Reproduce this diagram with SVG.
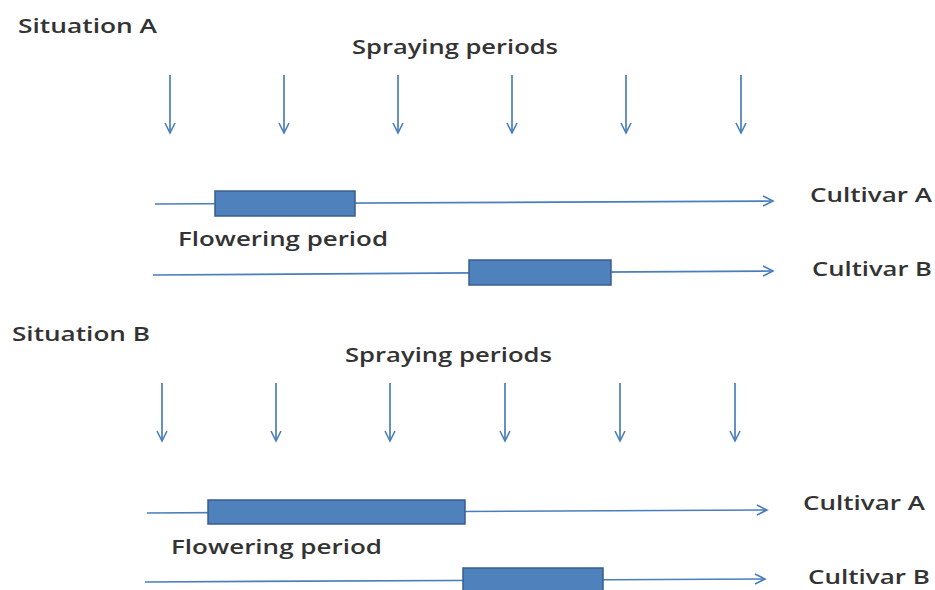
<svg xmlns="http://www.w3.org/2000/svg" width="935" height="590" viewBox="0 0 935 590">
<defs>
<marker id="ah" markerWidth="14" markerHeight="12" refX="11" refY="6" orient="auto" markerUnits="userSpaceOnUse">
<path d="M1,1 L11,6 L1,11" fill="none" stroke="#4A7EBB" stroke-width="1.6"/>
</marker>
<style>
.t{font-family:"Open Sans","Liberation Sans",sans-serif;font-size:20px;font-weight:600;fill:#333333}
.ln{stroke:#4A7EBB;stroke-width:1.6;fill:none}
.sp{stroke:#4A7EBB;stroke-width:1.7;fill:none;marker-end:url(#ah)}
.bx{fill:#4F81BD;stroke:#385D8A;stroke-width:1.5}
</style>
</defs>
<rect width="935" height="590" fill="#ffffff"/>
<g id="labels">
<text class="t" x="18" y="33" textLength="139" lengthAdjust="spacingAndGlyphs">Situation A</text>
<text class="t" x="352" y="54" textLength="206" lengthAdjust="spacingAndGlyphs">Spraying periods</text>
<text class="t" x="178" y="246" textLength="210" lengthAdjust="spacingAndGlyphs">Flowering period</text>
<text class="t" x="810" y="202" textLength="122" lengthAdjust="spacingAndGlyphs">Cultivar A</text>
<text class="t" x="812" y="276" textLength="120" lengthAdjust="spacingAndGlyphs">Cultivar B</text>
<text class="t" x="12" y="341" textLength="138" lengthAdjust="spacingAndGlyphs">Situation B</text>
<text class="t" x="345" y="362" textLength="207" lengthAdjust="spacingAndGlyphs">Spraying periods</text>
<text class="t" x="171" y="554" textLength="211" lengthAdjust="spacingAndGlyphs">Flowering period</text>
<text class="t" x="803" y="510" textLength="122" lengthAdjust="spacingAndGlyphs">Cultivar A</text>
<text class="t" x="808" y="584" textLength="122" lengthAdjust="spacingAndGlyphs">Cultivar B</text>
</g>
<g id="connectors">
<line class="sp" x1="170" y1="75" x2="170" y2="133"/>
<line class="sp" x1="284" y1="75" x2="284" y2="133"/>
<line class="sp" x1="398" y1="75" x2="398" y2="133"/>
<line class="sp" x1="512" y1="75" x2="512" y2="133"/>
<line class="sp" x1="626" y1="75" x2="626" y2="133"/>
<line class="sp" x1="741" y1="75" x2="741" y2="133"/>
<line class="sp" x1="155" y1="204" x2="773" y2="201"/>
<line class="sp" x1="153" y1="275" x2="773" y2="271"/>
<line class="sp" x1="162" y1="383" x2="162" y2="441"/>
<line class="sp" x1="276" y1="383" x2="276" y2="441"/>
<line class="sp" x1="390" y1="383" x2="390" y2="441"/>
<line class="sp" x1="505" y1="383" x2="505" y2="441"/>
<line class="sp" x1="620" y1="383" x2="620" y2="441"/>
<line class="sp" x1="735" y1="383" x2="735" y2="441"/>
<line class="sp" x1="147" y1="513" x2="767" y2="510"/>
<line class="sp" x1="145" y1="582" x2="765" y2="579"/>
</g>
<g id="boxA1"><rect class="bx" x="215" y="191" width="140" height="25"/></g>
<g id="boxB1"><rect class="bx" x="469" y="260" width="142" height="25"/></g>
<g id="boxA2"><rect class="bx" x="208" y="500" width="257" height="24"/></g>
<g id="boxB2"><rect class="bx" x="463" y="568" width="140" height="24"/></g>
</svg>
